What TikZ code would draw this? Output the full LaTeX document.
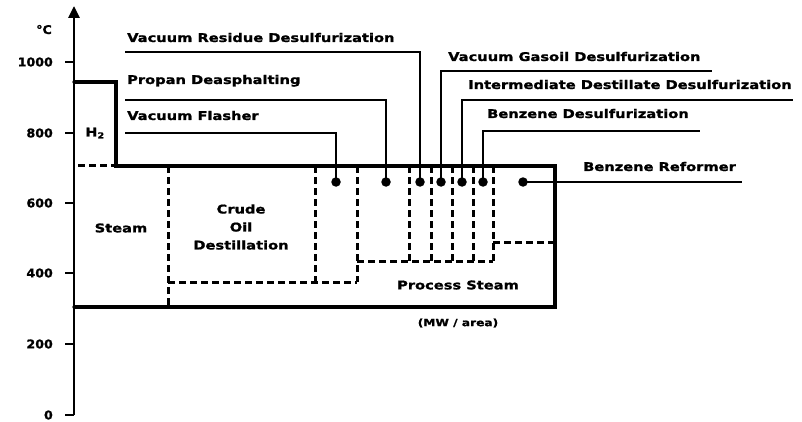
\documentclass[tikz,border=0pt]{standalone}
\usepackage{fontspec}
\setmainfont{DejaVu Sans}
\newfontfamily\labfont{DejaVu Sans Bold}[FakeStretch=1.22,FakeBold=1.3]
\newfontfamily\numfont{DejaVu Sans Bold}[FakeStretch=1.05,FakeBold=1.3]
\usetikzlibrary{arrows.meta}
% dashed lines drawn as small filled bars
\newcommand\myhdash[3]{% y, x1, x2
  \pgfmathtruncatemacro\myxb{#2+11}%
  \foreach \t in {#2,\myxb,...,#3}{%
    \pgfmathsetmacro\tend{min(\t+7,#3)}%
    \fill (\t,#1-1.5) rectangle (\tend,#1+1.5);}}
\newcommand\myvdash[3]{% x, y1, y2
  \pgfmathtruncatemacro\myyb{#2+11}%
  \foreach \t in {#2,\myyb,...,#3}{%
    \pgfmathsetmacro\tend{min(\t+7,#3)}%
    \fill (#1-1.5,\t) rectangle (#1+1.5,\tend);}}
\begin{document}
\begin{tikzpicture}[x=1pt,y=-1pt,
  lab/.style={font=\labfont\fontsize{12}{14}\selectfont, inner sep=0pt},
  numlab/.style={font=\numfont\fontsize{12}{14}\selectfont, inner sep=0pt},
  thickline/.style={line width=3.2pt, line cap=round, line join=miter},
  leader/.style={line width=2.2pt, line join=miter},
  dotc/.style={circle, fill=black, inner sep=0pt, minimum size=9.5pt}]
\useasboundingbox (0,0) rectangle (802,422);
% axis
\coordinate (ax0) at (74,415);
\coordinate (axtop) at (74,6);
\draw[line width=2.8pt, -{Triangle[length=12pt,width=11pt]}] (ax0) -- (axtop);
\node[numlab, anchor=base] (degc) at (44,34) {°C};
\foreach \v/\yy in {0/415,200/344,400/273,600/203,800/133,1000/62}{
  \coordinate (t\v) at (74,\yy);
  \draw[line width=2.2pt] (t\v) -- ++(-9,0);
  \node[numlab, anchor=east] (tl\v) at (53,\yy) {\v};
}
% main outline
\coordinate (b0) at (74,307);
\coordinate (b1) at (555,307);
\coordinate (b2) at (555,166);
\coordinate (b3) at (116,166);
\coordinate (b4) at (116,82);
\coordinate (b5) at (74,82);
\draw[thickline] (b0) -- (b1) -- (b2) -- (b3) -- (b4) -- (b5);
\myhdash{166}{78}{116}
\node[lab] (h2) at (95,133) {H\textsubscript{2}};
\node[lab] (steam) at (121,228) {Steam};
\node[lab, align=center, font=\labfont\fontsize{12}{18}\selectfont] (crude) at (241,227) {Crude\\Oil\\Destillation};
\node[lab] (proc) at (458,285) {Process Steam};
\node[lab, font=\labfont\fontsize{10}{12}\selectfont] (mw) at (458,323) {(MW / area)};
% dashed structure
\myvdash{168}{166}{307}
\myvdash{315}{166}{282}
\myhdash{282}{168}{357}
\myvdash{357}{166}{282}
\myhdash{261}{357}{493}
\foreach \xx in {409,431,452,473,493}{
  \myvdash{\xx}{166}{261}
}
\myhdash{242}{493}{555}
% dots
\node[dotc] (dvf) at (336,182) {};
\node[dotc] (dpd) at (386,182) {};
\node[dotc] (dvr) at (420,182) {};
\node[dotc] (dvg) at (441,182) {};
\node[dotc] (did) at (462,182) {};
\node[dotc] (dbd) at (483,182) {};
\node[dotc] (dbr) at (523,182) {};
% leader ends
\coordinate (uvf) at (125,133);
\coordinate (upd) at (125,100);
\coordinate (uvr) at (125,52);
\coordinate (uvg) at (712,71);
\coordinate (uid) at (793,100);
\coordinate (ubd) at (700,131);
\coordinate (ubr) at (742,182);
\draw[leader] (dvf.center) |- (uvf);
\draw[leader] (dpd.center) |- (upd);
\draw[leader] (dvr.center) |- (uvr);
\draw[leader] (dvg.center) |- (uvg);
\draw[leader] (did.center) |- (uid);
\draw[leader] (dbd.center) |- (ubd);
\draw[leader] (dbr.center) -- (ubr);
% labels
\node[lab, anchor=base west] (lvr) at (127,42) {Vacuum Residue Desulfurization};
\node[lab, anchor=base west] (lpd) at (127,84) {Propan Deasphalting};
\node[lab, anchor=base west] (lvf) at (127,120) {Vacuum Flasher};
\node[lab, anchor=base west] (lvg) at (448,61) {Vacuum Gasoil Desulfurization};
\node[lab, anchor=base west] (lid) at (468,89) {Intermediate Destillate Desulfurization};
\node[lab, anchor=base west] (lbd) at (487,118) {Benzene Desulfurization};
\node[lab, anchor=base west] (lbr) at (583,171) {Benzene Reformer};
\end{tikzpicture}
\end{document}
